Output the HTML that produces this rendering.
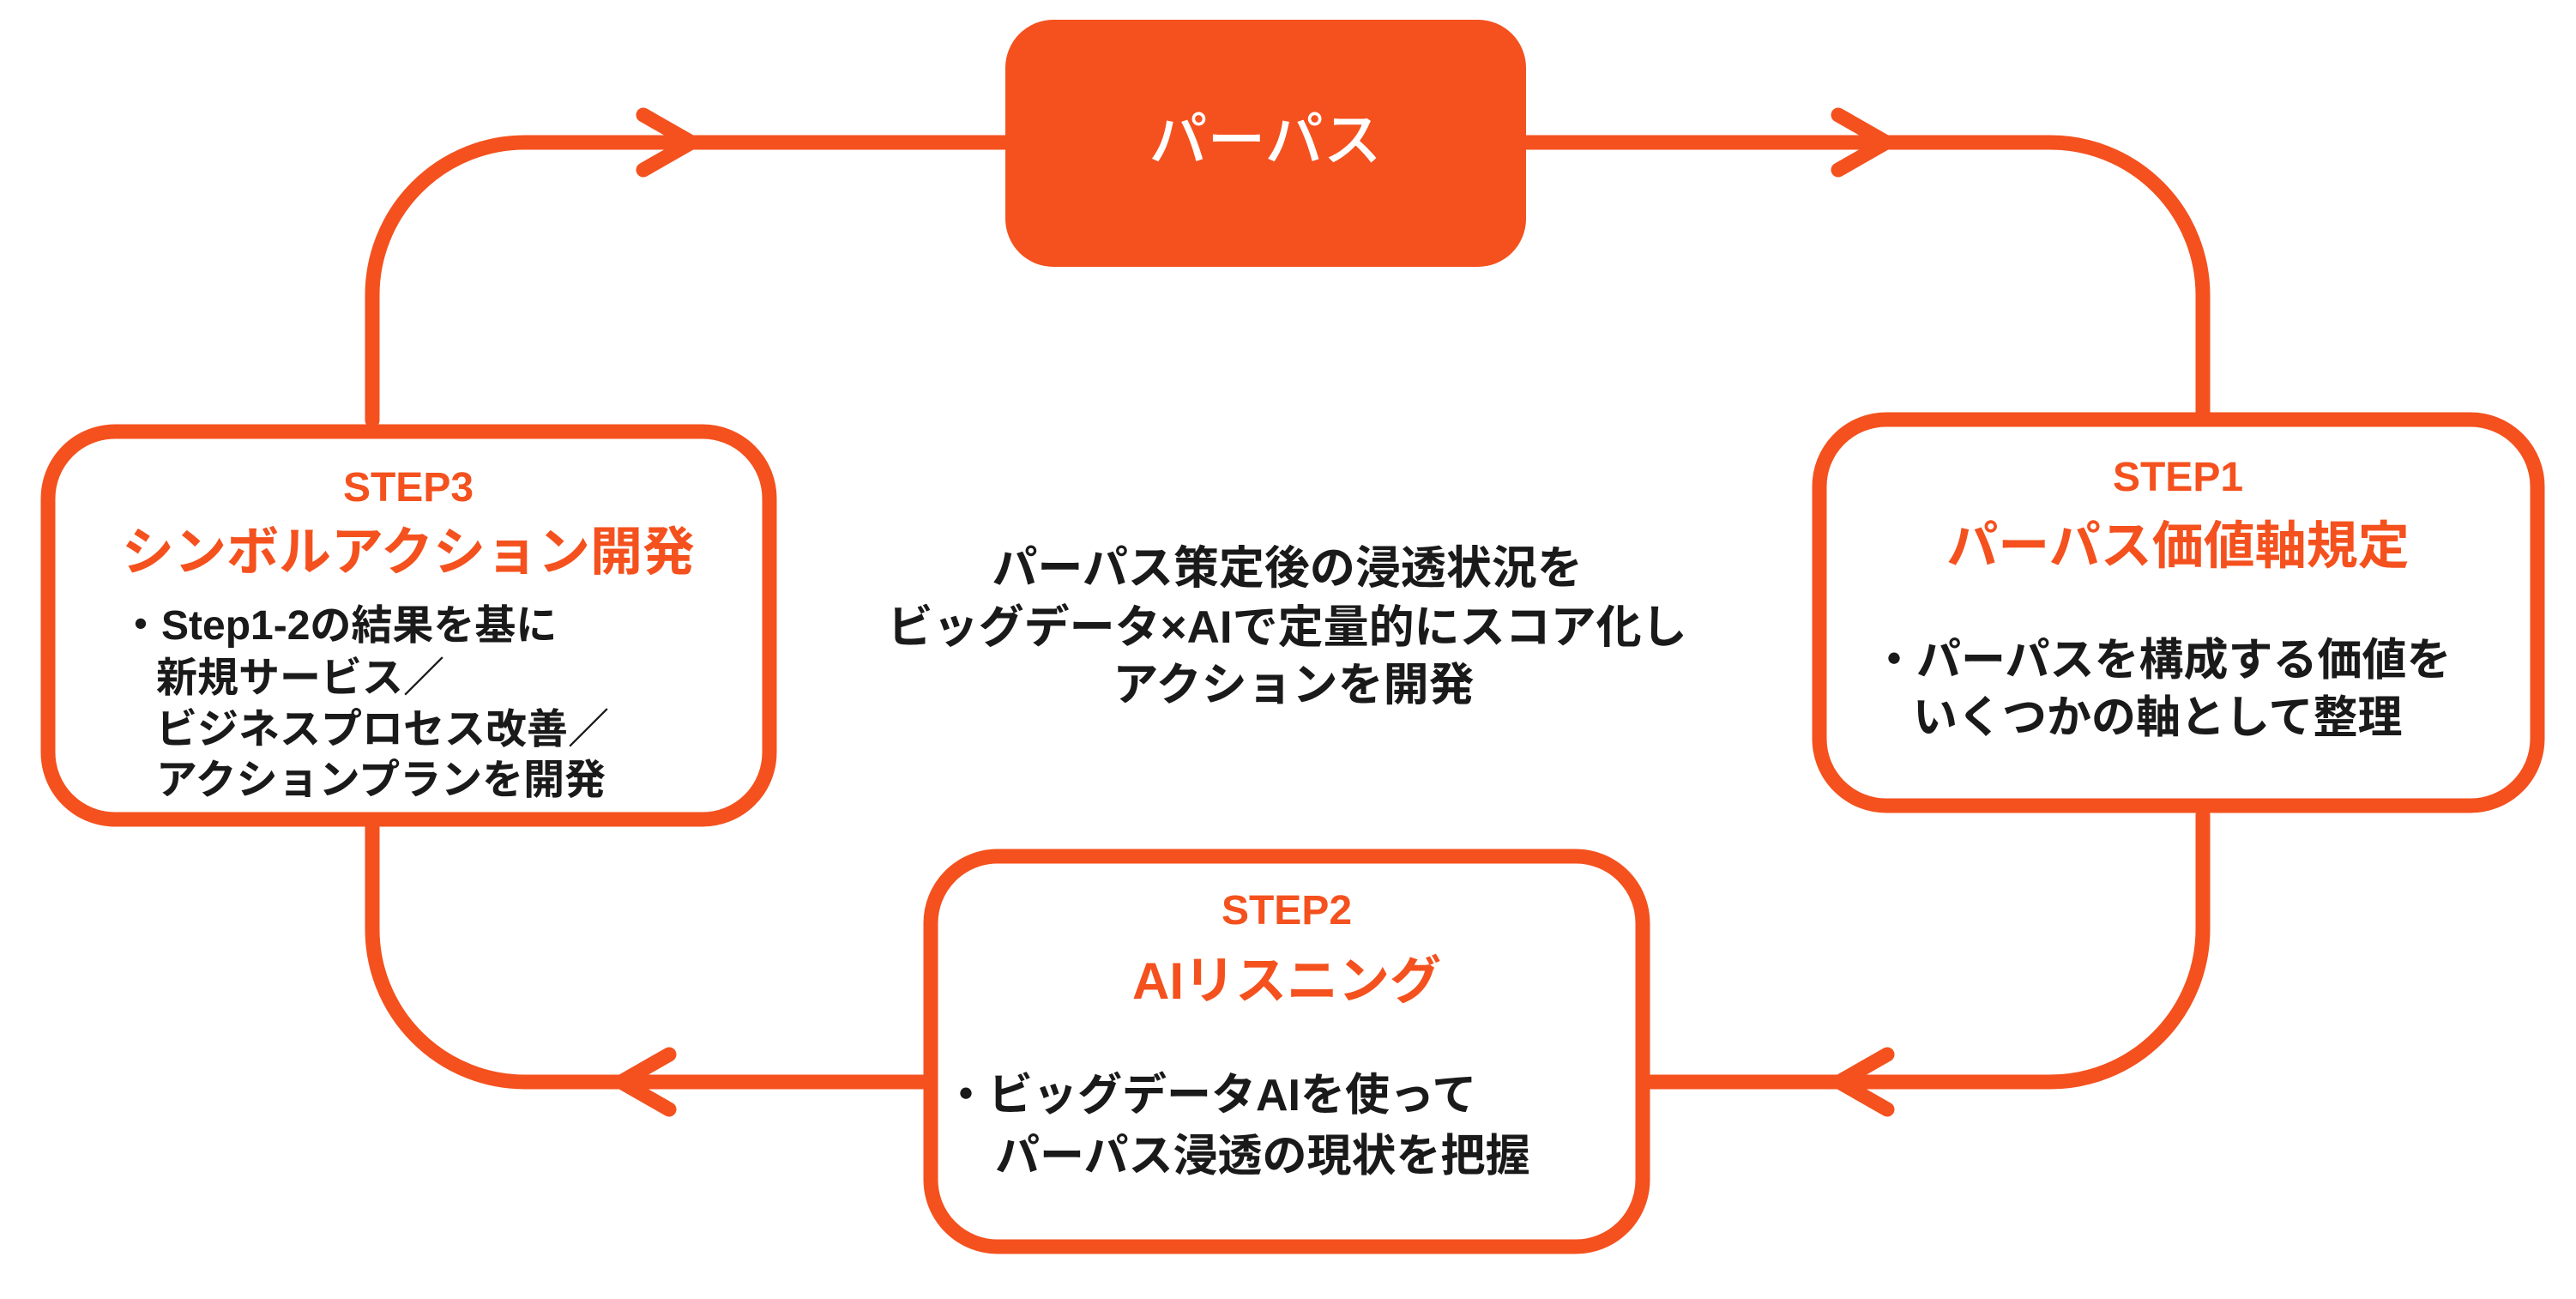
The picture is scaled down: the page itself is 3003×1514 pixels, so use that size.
<!DOCTYPE html>
<html><head><meta charset="utf-8"><style>
html,body{margin:0;padding:0;background:#fff;}
svg{display:block;}
text{font-family:"Liberation Sans","Noto Sans CJK JP",sans-serif;font-weight:bold;}
.o{fill:#F4511E;}
.k{fill:#1a1a1a;}
</style></head><body>
<svg width="3003" height="1514" viewBox="0 0 3003 1514" xmlns="http://www.w3.org/2000/svg">
<g fill="none" stroke="#F4511E" stroke-width="17" stroke-linecap="round" stroke-linejoin="round">
  <!-- top left loop -->
  <path d="M1180 166 H612 A178 178 0 0 0 434 344 V490"/>
  <path d="M750 134 L806 166 L750 198"/>
  <!-- top right loop -->
  <path d="M1775 166 H2390 A178 178 0 0 1 2568 344 V485"/>
  <path d="M2143 134 L2199 166 L2143 198"/>
  <!-- bottom right -->
  <path d="M2568 950 V1083 A178 178 0 0 1 2390 1261 H1925"/>
  <path d="M2200 1229 L2144 1261 L2200 1293"/>
  <!-- bottom left -->
  <path d="M434 965 V1083 A178 178 0 0 0 612 1261 H1078"/>
  <path d="M780 1229 L724 1261 L780 1293"/>
</g>
<!-- top box -->
<rect x="1172" y="23" width="607" height="288" rx="56" fill="#F4511E"/>
<text x="1475" y="187" text-anchor="middle" font-size="68" fill="#fff" style="font-weight:500">パーパス</text>

<!-- boxes -->
<g fill="#fff" stroke="#F4511E" stroke-width="17">
  <rect x="56" y="503" width="841" height="452" rx="78"/>
  <rect x="2121" y="489" width="837" height="450" rx="78"/>
  <rect x="1085" y="998" width="830" height="455" rx="78"/>
</g>

<!-- STEP3 -->
<text class="o" x="476" y="584" text-anchor="middle" font-size="48">STEP3</text>
<text class="o" x="476" y="664" text-anchor="middle" font-size="61">シンボルアクション開発</text>
<text class="k" font-size="48">
  <tspan x="140" y="745">・Step1-2の結果を基に</tspan>
  <tspan x="182" y="806">新規サービス／</tspan>
  <tspan x="182" y="866">ビジネスプロセス改善／</tspan>
  <tspan x="182" y="925">アクションプランを開発</tspan>
</text>

<!-- center -->
<text class="k" font-size="53" text-anchor="middle">
  <tspan x="1508" y="680">パーパス策定後の浸透状況を</tspan>
  <tspan x="1508" y="749">ビッグデータ×AIで定量的にスコア化し</tspan>
  <tspan x="1508" y="816">アクションを開発</tspan>
</text>

<!-- STEP1 -->
<text class="o" x="2539" y="572" text-anchor="middle" font-size="48">STEP1</text>
<text class="o" x="2539" y="657" text-anchor="middle" font-size="60">パーパス価値軸規定</text>
<text class="k" font-size="52">
  <tspan x="2182" y="787">・パーパスを構成する価値を</tspan>
  <tspan x="2230" y="854">いくつかの軸として整理</tspan>
</text>

<!-- STEP2 -->
<text class="o" x="1500" y="1077" text-anchor="middle" font-size="48">STEP2</text>
<text class="o" x="1500" y="1164" text-anchor="middle" font-size="60">AIリスニング</text>
<text class="k" font-size="52">
  <tspan x="1100" y="1294">・ビッグデータAIを使って</tspan>
  <tspan x="1160" y="1365">パーパス浸透の現状を把握</tspan>
</text>
</svg>
</body></html>
